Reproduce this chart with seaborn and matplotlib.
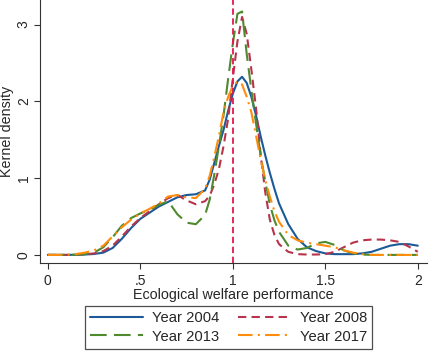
import matplotlib
matplotlib.use("Agg")
import matplotlib.pyplot as plt
import pandas as pd
import seaborn as sns

# kernel density curves, on a shared grid
x_grid = [0, .05, .1, .15, .2, .25, .3, .35, .4, .45, .5, .55, .6, .65, .7, .75, .8, .85,
          .875, .9, .925, .95, .975, 1.0, 1.025, 1.05, 1.075, 1.1, 1.125, 1.15, 1.175, 1.2, 1.225,
          1.25, 1.3, 1.35, 1.4, 1.45, 1.5, 1.55, 1.6, 1.65, 1.7, 1.75, 1.8, 1.85, 1.9, 1.95, 2.0]

dens_2004 = [0, 0, 0, .002, .005, .012, .03, .09, .21, .35, .47, .55, .63, .69, .75, .78, .79, .84,
             .98, 1.2, 1.42, 1.63, 1.88, 2.1, 2.26, 2.32, 2.24, 2.06, 1.82, 1.55, 1.3, 1.07, .86,
             .67, .4, .21, .1, .05, .02, .01, .01, .01, .02, .04, .08, .12, .14, .14, .12]
dens_2008 = [0, 0, 0, .002, .008, .02, .05, .12, .24, .37, .48, .57, .66, .74, .78, .71, .66, .7,
             .77, .92, 1.12, 1.42, 1.78, 2.3, 2.78, 3.1, 2.88, 2.42, 1.92, 1.32, .82, .46, .26,
             .14, .04, .01, .005, .005, .01, .04, .1, .16, .19, .2, .2, .19, .17, .11, .04]
dens_2013 = [0, 0, 0, .002, .01, .03, .1, .23, .38, .48, .54, .59, .65, .7, .53, .42, .4, .52,
             .72, 1.05, 1.42, 1.82, 2.3, 2.75, 3.14, 3.17, 2.62, 2.15, 1.72, 1.3, .96, .66, .45,
             .3, .12, .07, .09, .15, .17, .13, .06, .02, .005, 0, 0, 0, 0, 0, 0]
dens_2017 = [0, 0, .003, .01, .03, .06, .12, .24, .36, .46, .54, .6, .67, .76, .78, .75, .74, .86,
             1.03, 1.28, 1.55, 1.86, 2.06, 2.2, 2.26, 2.22, 2.06, 1.86, 1.56, 1.25, .98, .76, .57,
             .43, .26, .19, .16, .14, .12, .1, .06, .03, .01, 0, 0, 0, 0, 0, 0]

years = ["Year 2004", "Year 2008", "Year 2013", "Year 2017"]
series = [dens_2004, dens_2008, dens_2013, dens_2017]
colors = ["#1b5a97", "#b8344c", "#4f8a2f", "#ff8c0a"]
dash_styles = ["-", (0, (4, 2.5)), (0, (8, 3.5)), (0, (7, 2.5, 1, 2.5))]

sns.set_theme(style="white")
plt.rcParams["font.family"] = ["Liberation Sans", "DejaVu Sans"]

fig = plt.figure(figsize=(4.29, 3.51), dpi=100)
ax = fig.add_axes([0.093, 0.251, 0.902, 0.749])

for label, dens, color, ls in zip(years, series, colors, dash_styles):
    df = pd.DataFrame({"x": x_grid, "density": dens})
    sns.lineplot(data=df, x="x", y="density", ax=ax, color=color, linestyle=ls,
                 linewidth=1.5, label=label)

ax.axvline(1.0, color="#e3184f", linestyle=(0, (3.5, 2)), linewidth=1.3)

ax.set_xlim(-0.043, 2.049)
ax.set_ylim(-0.104, 3.32)
ax.set_xticks([0, 0.5, 1, 1.5, 2])
ax.set_xticklabels(["0", ".5", "1", "1.5", "2"])
ax.set_yticks([0, 1, 2, 3])
ax.set_yticklabels(["0", "1", "2", "3"], rotation=90, va="center")
ax.tick_params(axis="x", pad=4)
ax.tick_params(axis="both", direction="out", length=4, width=0.8, labelsize=10,
               color="#333333", left=True, bottom=True)
ax.tick_params(axis="y", pad=2.5)
ax.set_xlabel("Ecological welfare performance", fontsize=10.3, labelpad=0)
ax.set_ylabel("Kernel density", fontsize=10.3, labelpad=2)

sns.despine(ax=ax)
for side in ["left", "bottom"]:
    ax.spines[side].set_color("#333333")
    ax.spines[side].set_linewidth(0.8)

ax.legend_.remove()
handles, labels = ax.get_legend_handles_labels()
# row-wise order like the reference: 2004, 2008 / 2013, 2017
order = [0, 2, 1, 3]
leg = fig.legend([handles[i] for i in order], [labels[i] for i in order], ncol=2,
                 loc="upper center", bbox_to_anchor=(0.533, 0.128),
                 bbox_transform=fig.transFigure, borderaxespad=0,
                 fontsize=10.6, frameon=True, fancybox=False, edgecolor="#222222",
                 handlelength=3.6, columnspacing=1.3, borderpad=0.35, labelspacing=0.3,
                 handletextpad=0.6)
leg.get_frame().set_linewidth(0.9)

fig.savefig("out.png", dpi=100)
